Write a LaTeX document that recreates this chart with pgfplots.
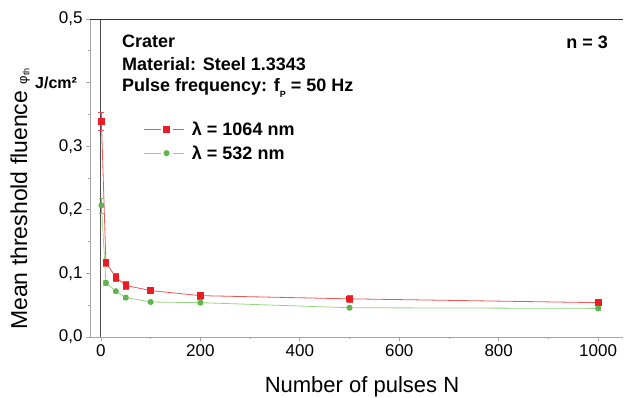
\documentclass[border=0pt]{standalone}
\usepackage{pgfplots}
\pgfplotsset{compat=1.18}
\usepackage{fontspec}
\setmainfont{Liberation Sans}
\definecolor{rmark}{RGB}{236,28,36}
\definecolor{rline}{RGB}{240,85,85}
\definecolor{gmark}{RGB}{95,180,75}
\definecolor{gline}{RGB}{150,212,130}
\definecolor{axgray}{RGB}{165,165,165}
\begin{document}
\begin{tikzpicture}
\path[use as bounding box] (0bp,0bp) rectangle (624bp,398bp);
\begin{axis}[
  at={(90bp,61bp)}, anchor=south west,
  scale only axis, width=533bp, height=318bp,
  xmin=-22, xmax=1050, ymin=0, ymax=0.5,
  axis x line*=bottom, axis y line*=left,
  axis line style={-, axgray, line width=0.9bp},
  xtick={0,200,400,600,800,1000},
  minor xtick={100,300,500,700,900},
  ytick={0,0.1,0.2,0.3,0.5},
  extra y ticks={0.4}, extra y tick labels={},
  minor ytick={0.05,0.15,0.25,0.35,0.45},
  tick align=outside,
  major tick length=4bp, minor tick length=2.5bp,
  tick style={axgray, line width=0.8bp},
  /pgf/number format/assume math mode=true,
  /pgf/number format/1000 sep={},
  yticklabel style={/pgf/number format/.cd, fixed, fixed zerofill, precision=1, use comma},
  ticklabel style={font=\fontsize{17bp}{20bp}\selectfont},
  legend style={draw=none, fill=none, at={(0.0994,0.684)}, anchor=north west,
    inner sep=0pt, row sep=5bp, font=\fontsize{18bp}{20bp}\selectfont\bfseries},
  legend cell align=left,
  legend image code/.code={
    \draw[#1, mark=none] (0bp,0bp) -- (17bp,0bp);
    \draw[#1, mark=none] (29bp,0bp) -- (40bp,0bp);
    \path[#1, draw=none] plot coordinates {(23bp,0bp)};
    \path (46bp,0bp);
  },
]
\draw[black!70, line width=0.9bp] (axis cs:0,0) -- (axis cs:0,0.5);
\draw[black!80, line width=0.9bp] (rel axis cs:0,1) -- (rel axis cs:1,1);
\addplot[rline, line width=0.8bp, mark=square*, mark size=2.8bp,
  mark options={rmark, fill=rmark},
  error bars/.cd, y dir=both, y explicit,
  error bar style={rmark!80, line width=0.7bp},
  error mark options={rotate=90, mark size=3bp, rmark!80}]
  coordinates {
  (1,0.339) +- (0,0.014)
  (10,0.117) +- (0,0.006)
  (30,0.094) +- (0,0.006)
  (50,0.081) +- (0,0.006)
  (100,0.073) +- (0,0.004)
  (200,0.065) +- (0,0.005)
  (500,0.060) +- (0,0.006)
  (1000,0.054) +- (0,0.004)
  };
\addlegendentry{λ = 1064 nm}
\addplot[gline, line width=0.8bp, mark=*, mark size=2.6bp,
  mark options={gmark, fill=gmark},
  error bars/.cd, y dir=both, y explicit,
  error bar style={gmark!80, line width=0.7bp},
  error mark options={rotate=90, mark size=2.5bp, gmark!80}]
  coordinates {
  (1,0.207) +- (0,0.012)
  (10,0.085) +- (0,0.004)
  (30,0.072) +- (0,0.002)
  (50,0.062) +- (0,0.002)
  (100,0.055) +- (0,0.002)
  (200,0.054) +- (0,0.002)
  (500,0.046) +- (0,0.002)
  (1000,0.045) +- (0,0.003)
  };
\addlegendentry{λ = 532 nm}
\end{axis}
% axis labels
\node[anchor=base, font=\fontsize{22bp}{24bp}\selectfont] at (362bp,6bp) {Number of pulses N};
\node[anchor=base west, rotate=90, inner sep=0pt, font=\fontsize{23bp}{26bp}\selectfont] at (27bp,68bp)
  {Mean threshold fluence {\fontsize{13bp}{14bp}\selectfont φ\raisebox{-0.35ex}{\fontsize{9bp}{10bp}\selectfont th}}};
\node[anchor=west, inner sep=0pt, font=\fontsize{16bp}{18bp}\selectfont\bfseries] at (35bp,315bp) {J/cm²};
% annotations
\node[anchor=west, inner sep=0pt, font=\fontsize{18bp}{20bp}\selectfont\bfseries] at (122bp,357bp) {Crater};
\node[anchor=west, inner sep=0pt, font=\fontsize{18bp}{20bp}\selectfont\bfseries] at (122bp,334bp) {Material: Steel 1.3343};
\node[anchor=west, inner sep=0pt, font=\fontsize{18bp}{20bp}\selectfont\bfseries] at (122bp,310bp) {Pulse frequency: f\raisebox{-0.6ex}{\fontsize{9bp}{10bp}\selectfont P} = 50 Hz};
\node[anchor=east, inner sep=0pt, font=\fontsize{18bp}{20bp}\selectfont\bfseries] at (608bp,356bp) {n = 3};
\end{tikzpicture}
\end{document}
